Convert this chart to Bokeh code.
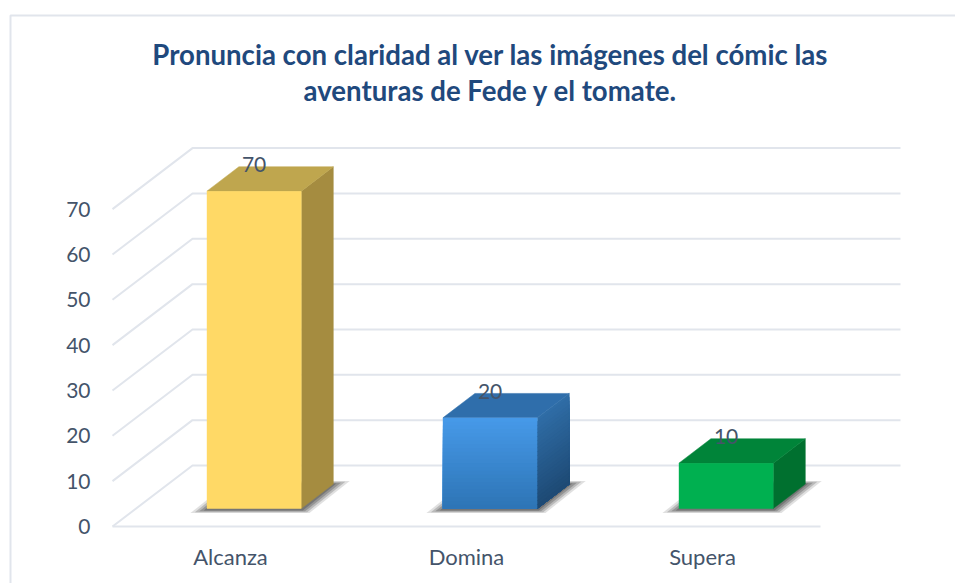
import numpy as np
from bokeh.embed import file_html
from bokeh.models import FixedTicker, Range1d
from bokeh.plotting import figure
from bokeh.resources import INLINE
from bokeh.core.properties import value

categories = ["Alcanza", "Domina", "Supera"]
values = [70, 20, 10]
y_ticks = [0, 10, 20, 30, 40, 50, 60, 70]
title_lines = ["Pronuncia con claridad al ver las imágenes del cómic las",
               "aventuras de Fede y el tomate."]

FONT = "Lato"
TXT = "#44546A"
GRID = "#E1E5EC"
PX_X, PX_Y = 236.0, 4.534          # pixels per category / per value unit
DX, DY = 80 / PX_X, 61 / PX_Y      # wall depth in data units
B0, B1 = 0.295, 0.695              # bar depth span
W, H = 955, 583
ORIG_X, ORIG_Y = 112, 526

def dx(px):
    return (px - ORIG_X) / PX_X

def dy(py):
    return (ORIG_Y - py) / PX_Y

p = figure(width=W, height=H, output_backend="svg", toolbar_location=None,
           x_range=Range1d(dx(0), dx(W)), y_range=Range1d(dy(H), dy(0)),
           min_border=0, background_fill_color="white", border_fill_color="white",
           outline_line_color=None)
p.grid.visible = False

# outer chart border and title
p.multi_line([[dx(10), dx(10), dx(W + 5)]], [[dy(H + 5), dy(15), dy(15)]],
             line_color=GRID, line_width=2)
p.text([dx(490), dx(490)], [dy(54), dy(90)], text=title_lines,
       text_font=value(FONT), text_font_size="27.6px", text_font_style="bold",
       text_color="#1F497D", text_align="center", text_baseline="middle")

ya = p.yaxis[0]
ya.fixed_location = dx(100)
ya.ticker = FixedTicker(ticks=y_ticks)
ya.axis_line_color = None
ya.major_tick_line_color = None
ya.minor_tick_line_color = None
ya.major_label_text_font = FONT
ya.major_label_text_font_size = "21px"
ya.major_label_text_color = TXT
ya.major_label_standoff = 4

xa = p.xaxis[0]
xa.fixed_location = dy(531)
centers = [i + 0.5 for i in range(len(categories))]
xa.ticker = FixedTicker(ticks=centers)
xa.major_label_overrides = {c: n for c, n in zip(centers, categories)}
xa.axis_line_color = None
xa.major_tick_line_color = None
xa.minor_tick_line_color = None
xa.major_label_text_font = FONT
xa.major_label_text_font_size = "22px"
xa.major_label_text_color = TXT
xa.major_label_standoff = 5

n = len(categories)
# walls
xs = [[0, DX, n + DX] for _ in y_ticks] + [[0, n]]
ys = [[v, v + DY, v + DY] for v in y_ticks] + [[0, 0]]
p.multi_line(xs, ys, line_color=GRID, line_width=2)

def lerp(c0, c1, t):
    a = np.array([int(c0[i:i+2], 16) for i in (1, 3, 5)], float)
    b = np.array([int(c1[i:i+2], 16) for i in (1, 3, 5)], float)
    r = a + (b - a) * t
    return "#%02x%02x%02x" % tuple(int(round(k)) for k in r)

styles = [
    dict(front=("#FFD966", "#FFD966"), side=("#A58C40", "#A58C40"), top="#BFA64E"),
    dict(front=("#4699E8", "#2E75B6"), side=("#2F6DA6", "#1E4A75"), top="#2F6EAB"),
    dict(front=("#00B050", "#00B050"), side=("#00702F", "#00702F"), top="#008439"),
]

for i, (v, st) in enumerate(zip(values, styles)):
    x0, x1 = i + 0.3, i + 0.7
    # soft floor shadow
    for grow, alpha in [(0.052, 0.16), (0.038, 0.24), (0.024, 0.30), (0.01, 0.36)]:
        d0, d1 = B0 - grow, B1 + grow
        sx0, sx1 = x0 - grow, x1 + grow
        p.patch([sx0 + d0 * DX, sx1 + d0 * DX, sx1 + d1 * DX, sx0 + d1 * DX],
                [d0 * DY - 0.3, d0 * DY - 0.3, d1 * DY, d1 * DY],
                fill_color="#404040", fill_alpha=alpha, line_color=None)
    # faces: each strip runs down to the foot, so later strips overlap earlier ones
    steps = 24 if st["front"][0] != st["front"][1] else 1
    edges = np.linspace(v, 0, steps + 1)
    fx0, fx1 = x0 + B0 * DX, x1 + B0 * DX
    bx1 = x1 + B1 * DX
    for k in range(steps):
        t = k / max(steps - 1, 1)
        a = edges[k]
        side = lerp(*st["side"], t)
        p.patch([fx1, bx1, bx1, fx1],
                [a + B0 * DY, a + B1 * DY, B1 * DY, B0 * DY],
                fill_color=side, line_color=side, line_width=0.5)
        p.quad(left=fx0, right=fx1, top=a + B0 * DY, bottom=B0 * DY,
               fill_color=lerp(*st["front"], t), line_color=None)
    p.patch([fx0, fx1, bx1, x0 + B1 * DX],
            [v + B0 * DY, v + B0 * DY, v + B1 * DY, v + B1 * DY],
            fill_color=st["top"], line_color=st["top"], line_width=0.5)
    p.quad(left=fx0, right=fx1, top=v + B0 * DY, bottom=v + B0 * DY - (v / steps),
           fill_color=lerp(*st["front"], 0), line_color=None)
    p.text([i + 0.5 + B0 * DX], [v + B1 * DY], text=[str(v)],
           text_font=value(FONT), text_font_size="21px", text_color=TXT,
           text_align="center", text_baseline="middle", y_offset=-2)

open("out.html", "w").write(file_html(p, INLINE))
